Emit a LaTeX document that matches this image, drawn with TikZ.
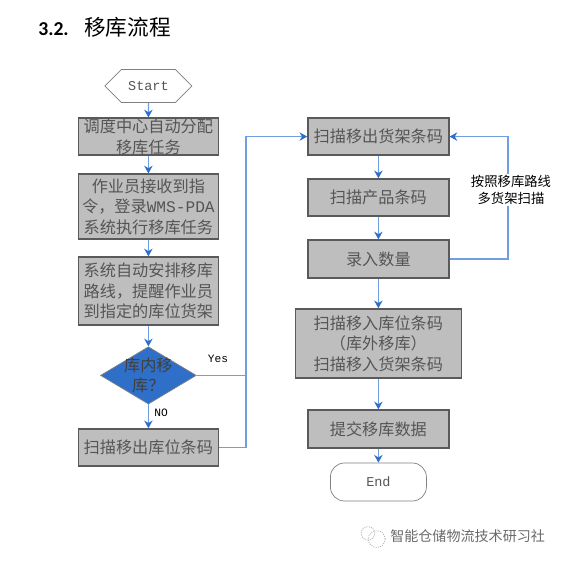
\documentclass[tikz,border=0pt]{standalone}
\usepackage{fontspec}
\setmainfont{Carlito}
\setmonofont{Liberation Mono}
\newfontfamily\cjk{Noto Sans CJK SC}
\usetikzlibrary{arrows.meta, positioning, calc, shapes.geometric, shapes.misc}
\definecolor{boxgray}{HTML}{BEBEBE}
\definecolor{edgegray}{HTML}{5A5A5A}
\definecolor{txtgray}{HTML}{555555}
\definecolor{tipblue}{HTML}{2F6FC8}
\definecolor{lineblue}{HTML}{6F9FE0}
\definecolor{wmgray}{HTML}{6A6A6A}

\begin{document}
\begin{tikzpicture}[
  >={Stealth[length=5.5pt, width=6pt, color=tipblue]},
  flowbox/.style 2 args={
    draw=edgegray, line width=0.9pt, fill=boxgray, text=txtgray,
    minimum width=#1, minimum height=#2, inner sep=0pt, align=center,
    font=\cjk\fontsize{11.5}{14.6}\selectfont
  },
  termtxt/.style={font=\ttfamily\fontsize{9.6}{12}\selectfont, text=txtgray},
  arr/.style={->, line width=0.9pt, lineblue},
  link/.style={line width=0.9pt, lineblue},
  note/.style={font=\ttfamily\fontsize{8}{10}\selectfont, text=black},
]

% Background
\fill[white] (0,0) rectangle (14.025,14.025);

% Title
\node[anchor=west, inner sep=0pt, font=\fontsize{14}{16}\selectfont] (title) at (0.95,13.35)
  {\textbf{3.2.}\hspace{11pt}{\cjk\fontsize{15.4}{18}\selectfont 移库流程}};

% =============================================
% Left column
% =============================================
\node[termtxt, draw=gray, chamfered rectangle, chamfered rectangle xsep=0.53cm,
  chamfered rectangle ysep=0.3cm, minimum width=2.175cm, minimum height=0.8cm,
  inner sep=0pt, line width=0.5pt] (start) at (3.71,11.875) {Start};

\node[flowbox={3.5cm}{0.925cm}] (assign) at (3.71,10.61)
  {调度中心自动分配\\移库任务};

\node[flowbox={3.5cm}{1.625cm}] (receive) at (3.71,8.86)
  {作业员接收到指\\令，登录{\ttfamily WMS-PDA}\\系统执行移库任务};

\node[flowbox={3.5cm}{1.7cm}] (route) at (3.71,6.75)
  {系统自动安排移库\\路线，提醒作业员\\到指定的库位货架};

\node[diamond, aspect=1.67, draw=gray, line width=0.5pt, fill=tipblue, text=black!75,
  minimum width=2.375cm, minimum height=1.425cm, inner sep=-1.6pt, align=center,
  font=\cjk\fontsize{11.5}{14.6}\selectfont] (inside) at (3.71,4.64)
  {库内移\\库？};

\node[flowbox={3.5cm}{0.925cm}] (outloc) at (3.71,2.84)
  {扫描移出库位条码};

% =============================================
% Right column
% =============================================
\node[flowbox={3.525cm}{0.925cm}] (outshelf) at (9.46,10.61)
  {扫描移出货架条码};

\node[flowbox={3.525cm}{0.925cm}] (product) at (9.46,9.09)
  {扫描产品条码};

\node[flowbox={3.525cm}{0.95cm}] (qty) at (9.46,7.55)
  {录入数量};

\node[flowbox={4.15cm}{1.725cm}] (inloc) at (9.46,5.44)
  {扫描移入库位条码\\（库外移库）\\扫描移入货架条码};

\node[flowbox={3.525cm}{0.95cm}] (submit) at (9.46,3.3)
  {提交移库数据};

\node[termtxt, draw=gray, rounded corners=10pt, line width=0.5pt, minimum width=2.4cm,
  minimum height=0.95cm, inner sep=0pt] (stop) at (9.46,1.975) {End};

% Arrows
\draw[arr] (start) -- (assign);
\draw[arr] (assign) -- (receive);
\draw[arr] (receive) -- (route);
\draw[arr] (route) -- (inside);
\draw[arr] (inside) -- (outloc);
\draw[arr] (outshelf) -- (product);
\draw[arr] (product) -- (qty);
\draw[arr] (qty) -- (inloc);
\draw[arr] (inloc) -- (submit);
\draw[arr] (submit) -- (stop);

% Bus between the columns
\coordinate (bus) at (6.15,7);
\draw[arr] (outloc.east) -- (outloc.east -| bus) -- (bus |- outshelf.west) -- (outshelf.west);
\draw[link] (inside.east) -- (inside.east -| bus);
\node[note] (yes) at (5.45,5.05) {Yes};
\node[note] (no) at (4.025,3.7) {NO};

% Back loop
\coordinate (back) at (12.7,9);
\draw[arr] (qty.east) -- (qty.east -| back) -- (back |- outshelf.east) -- (outshelf.east);
\node[fill=white, inner sep=1pt, align=center, text=black,
  font=\cjk\fontsize{9.5}{12}\selectfont] (loop) at (12.775,9.275)
  {按照移库路线\\多货架扫描};

% Watermark
\node[circle, draw=wmgray!60, densely dotted, line width=0.6pt, minimum size=0.34cm, inner sep=0pt] (wxa) at (9.2,0.69) {};
\node[circle, draw=wmgray!60, densely dotted, line width=0.6pt, minimum size=0.42cm, inner sep=0pt] (wxb) at (9.42,0.55) {};
\node[anchor=west, inner sep=0pt, text=wmgray, font=\cjk\fontsize{10}{12}\selectfont] (wmark) at (9.75,0.625)
  {智能仓储物流技术研习社};

\end{tikzpicture}
\end{document}
